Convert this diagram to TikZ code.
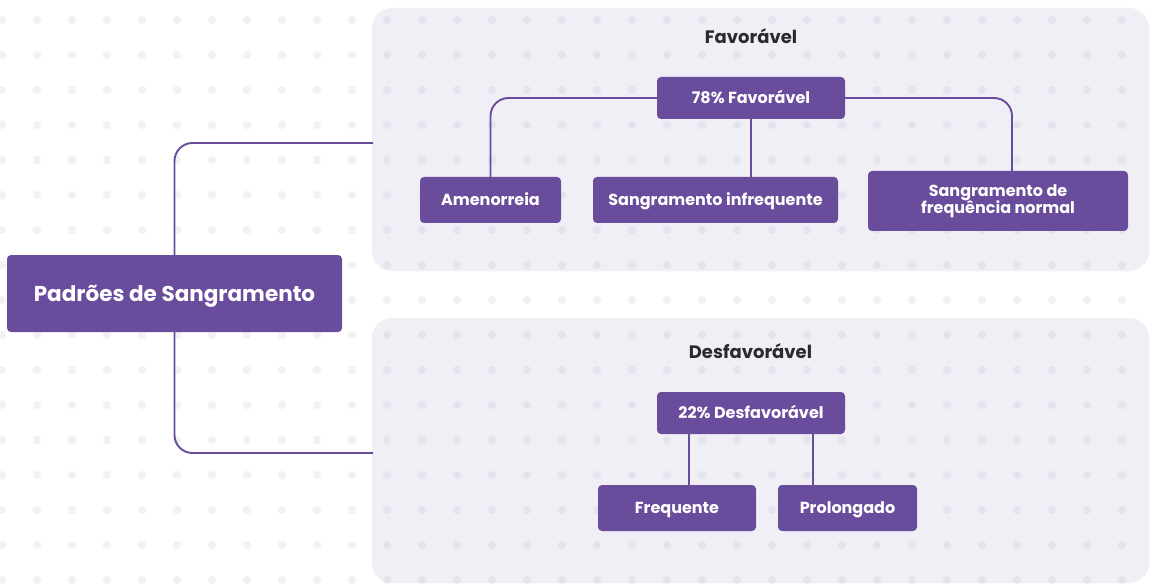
\documentclass[tikz,border=0pt]{standalone}
\usepackage{fontspec}
\setmainfont{Poppins}
\definecolor{purp}{HTML}{6A4C9C}
\definecolor{panel}{HTML}{F1EFF6}
\definecolor{dotc}{HTML}{8080A0}
\definecolor{titlec}{HTML}{2B2B2B}
\begin{document}
\begin{tikzpicture}[x=1pt,y=-1pt,
  box/.style={fill=purp,rounded corners=4pt,text=white,font=\bfseries\fontsize{16}{19}\selectfont,align=center,inner sep=0pt,text height=11.2pt,text depth=0pt},
  conn/.style={draw=purp,line width=1.9pt,rounded corners=18pt},
  ttl/.style={text=titlec,font=\bfseries\fontsize{18}{21}\selectfont,inner sep=0pt,text height=12.6pt,text depth=0pt}]
\useasboundingbox (0,0) rectangle (1150,585);
\fill[white] (0,0) rectangle (1150,585);
% panels
\fill[panel,rounded corners=20pt] (372,8) rectangle (1149,271);
\fill[panel,rounded corners=20pt] (372,318) rectangle (1149,583);
% dots
\foreach \i in {0,...,33}{
  \foreach \j in {0,...,16}{
    \fill[dotc,opacity=0.1] ({2+35*\i},{20+35*\j}) circle (4.2);
  }
}
% titles
\node[ttl] (tfav) at (751,37) {Favorável};
\node[ttl] (tdes) at (750.5,352) {Desfavorável};
% nodes
\node[box,minimum width=335pt,minimum height=77pt,font=\bfseries\fontsize{21.5}{25}\selectfont,text height=15pt] (main) at (174.5,293.5) {Padrões de Sangramento};
\node[box,minimum width=188pt,minimum height=42pt] (f78) at (751,98) {78\% Favorável};
\node[box,minimum width=141pt,minimum height=46pt] (amen) at (490.5,200) {Amenorreia};
\node[box,minimum width=245pt,minimum height=46pt] (infr) at (715.5,200) {Sangramento infrequente};
\node[box,minimum width=260pt,minimum height=60pt,text height=,text depth=] (norm) at (998,201) {Sangramento de\\[-2pt]frequência normal};
\node[box,minimum width=188pt,minimum height=42pt] (d22) at (751,413) {22\% Desfavorável};
\node[box,minimum width=158pt,minimum height=46pt] (freq) at (677,508) {Frequente};
\node[box,minimum width=139pt,minimum height=46pt] (prol) at (847.5,508) {Prolongado};
% connector ends at panels
\coordinate (fe) at (373,143);
\coordinate (de) at (373,453);
\coordinate (amenTop) at (490.5,177);
\coordinate (d22a) at (689,434);
\coordinate (d22b) at (813,434);
% connectors
\draw[conn] (main.north) |- (fe);
\draw[conn] (main.south) |- (de);
\draw[conn] (f78.west) -| (amenTop);
\draw[conn] (f78.east) -| ([xshift=14pt]norm.north);
\draw[conn] (f78.south) -- (f78.south |- infr.north);
\draw[conn] (d22a) -- (d22a |- freq.north);
\draw[conn] (d22b) -- (d22b |- prol.north);
\end{tikzpicture}
\end{document}
